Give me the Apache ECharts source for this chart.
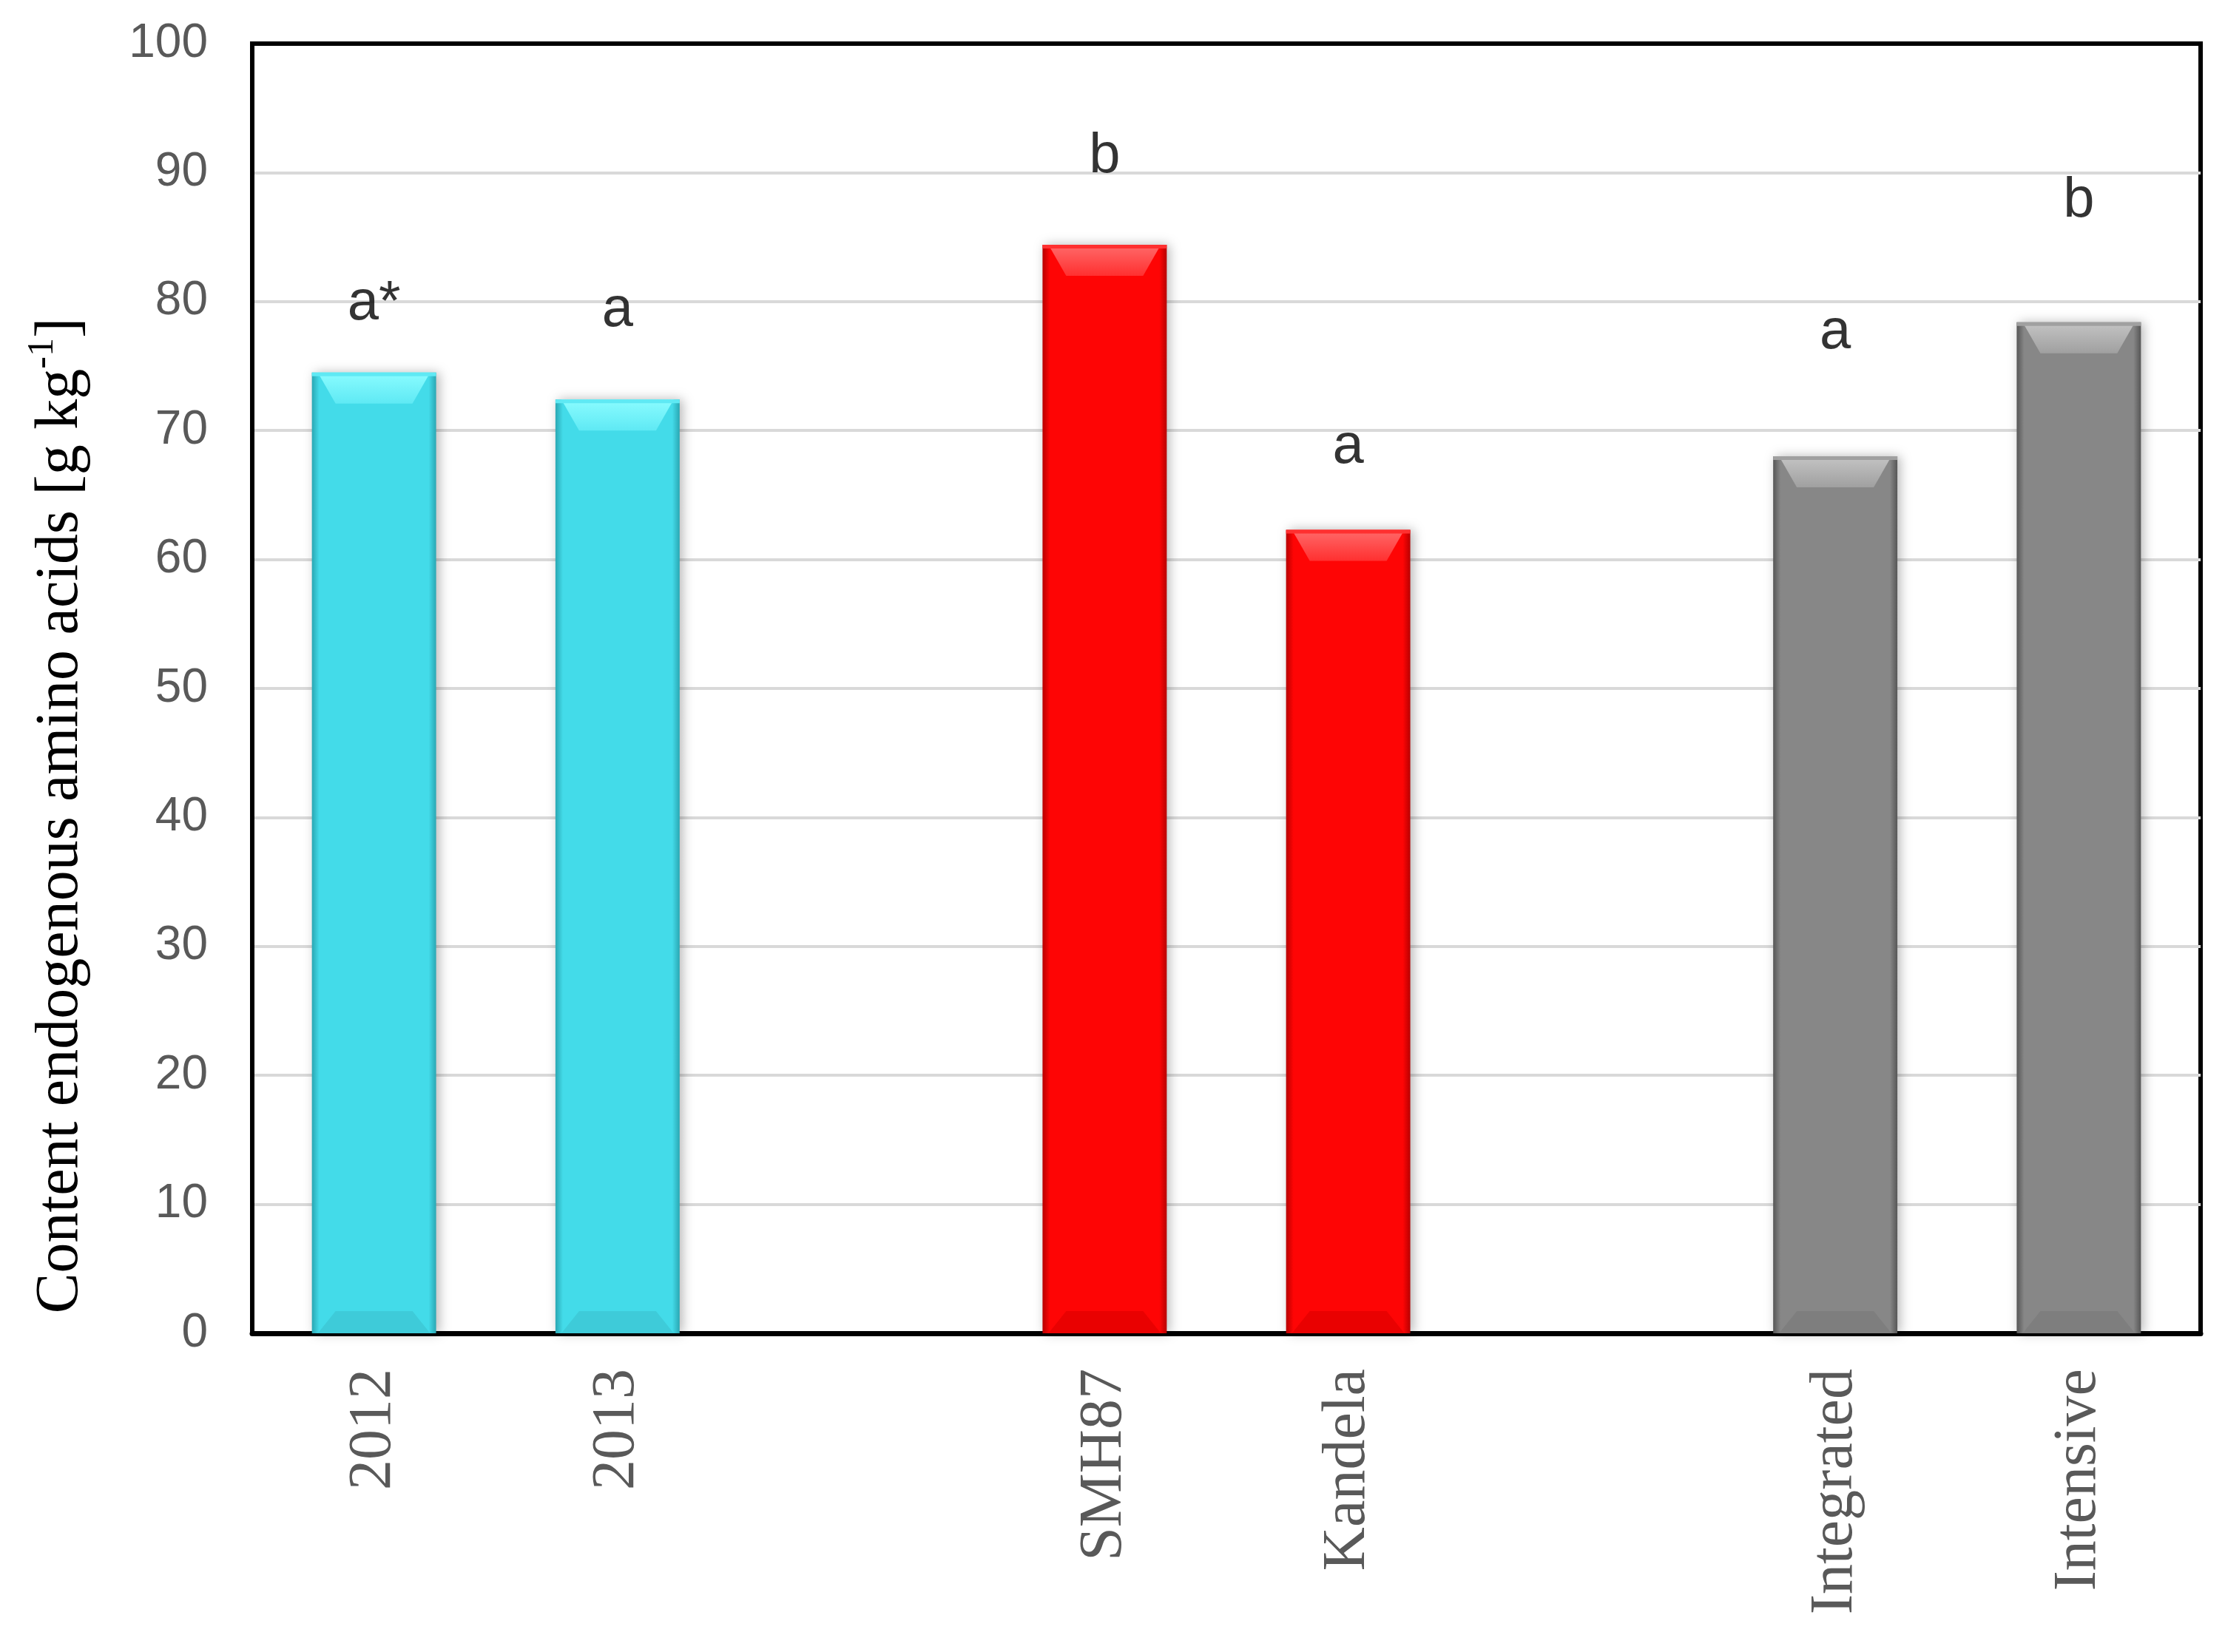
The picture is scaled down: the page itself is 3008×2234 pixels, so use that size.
<!DOCTYPE html>
<html>
<head>
<meta charset="utf-8">
<script src="https://cdn.jsdelivr.net/npm/echarts@6/dist/echarts.min.js"></script>
<style>
html,body{margin:0;padding:0;background:#fff;}
#chart{width:3008px;height:2234px;}
</style>
</head>
<body>
<div id="chart"></div>
<script>
// ---- data ----
const categories = ['2012', '2013', '', 'SMH87', 'Kandela', '', 'Integrated', 'Intensive'];
const values = [74.5, 72.4, null, 84.4, 62.3, null, 68.0, 78.4];
const letters = ['a*', 'a', '', 'b', 'a', '', 'a', 'b'];
const letterLevels = [79.8, 79.3, null, 91.2, 68.7, null, 77.6, 87.8];
const groups = [0, 0, null, 1, 1, null, 2, 2];
const yTicks = {min: 0, max: 100, interval: 10};

// ---- styles ----
const palette = [
  {main: '#43dbe9', edge: '#2aa7b3', bevelTop: '#8afcff', bevelBot: '#5fe9f4', base: '#3cc5d2'},
  {main: '#fe0505', edge: '#b80000', bevelTop: '#ff6a6a', bevelBot: '#ff3030', base: '#e00000'},
  {main: '#878787', edge: '#565656', bevelTop: '#c4c4c4', bevelBot: '#a0a0a0', base: '#7a7a7a'}
];

const barData = [];
values.forEach((v, i) => { if (v !== null) barData.push([i, v, groups[i]]); });
const letterData = [];
letterLevels.forEach((v, i) => { if (v !== null) letterData.push({value: [i, v], label: letters[i]}); });

const chart = echarts.init(document.getElementById('chart'));
chart.setOption({
  backgroundColor: '#fff',
  animation: false,
  grid: {left: 341, top: 59, width: 2634, height: 1744, show: true, borderColor: '#000', borderWidth: 6, containLabel: false},
  xAxis: {
    type: 'category',
    data: categories,
    axisLine: {show: true, lineStyle: {color: '#000', width: 7}},
    axisTick: {show: false},
    axisLabel: {rotate: 90, margin: 48, color: '#595959', fontFamily: 'Liberation Serif', fontSize: 82, interval: 0},
    splitLine: {show: false}
  },
  yAxis: {
    type: 'value',
    min: yTicks.min, max: yTicks.max, interval: yTicks.interval,
    axisLine: {show: true, lineStyle: {color: '#000', width: 6}},
    axisTick: {show: false},
    axisLabel: {margin: 60, color: '#595959', fontFamily: 'Liberation Sans', fontSize: 64},
    splitLine: {show: true, showMaxLine: false, showMinLine: false, lineStyle: {color: '#d9d9d9', width: 4}}
  },
  graphic: [{
    type: 'text',
    x: 78, y: 1103,
    rotation: Math.PI / 2,
    style: {
      text: '{n|Content endogenous amino acids [g kg}{s|-1}{n|]}',
      align: 'center', verticalAlign: 'middle',
      rich: {
        n: {fontFamily: 'Liberation Serif', fontSize: 82, fill: '#000', lineHeight: 90, verticalAlign: 'bottom'},
        s: {fontFamily: 'Liberation Serif', fontSize: 50, fill: '#000', lineHeight: 90, verticalAlign: 'top'}
      }
    }
  }],
  series: [{
    type: 'custom',
    data: barData,
    encode: {x: 0, y: 1},
    z: 3,
    renderItem: function (params, api) {
      const idx = api.value(0), val = api.value(1), g = api.value(2);
      const c = palette[g];
      const top = api.coord([idx, val]);
      const base = api.coord([idx, 0]);
      const bw = api.size([1, 0])[0] * 0.51;
      const l = top[0] - bw / 2, r = top[0] + bw / 2;
      const t = top[1], b = base[1];
      const bev = 42, ins = 32, e = 8;
      return {
        type: 'group',
        children: [
          {type: 'rect', shape: {x: l, y: t, width: bw, height: b - t},
            style: {
              fill: new echarts.graphic.LinearGradient(0, 0, 1, 0, [
                {offset: 0, color: c.edge}, {offset: 0.06, color: c.main},
                {offset: 0.94, color: c.main}, {offset: 1, color: c.edge}]),
              shadowBlur: 14, shadowColor: 'rgba(0,0,0,0.28)', shadowOffsetX: 4, shadowOffsetY: 0
            }},
          {type: 'polygon', shape: {points: [[l + e, t], [r - e, t], [r - ins, t + bev], [l + ins, t + bev]]},
            style: {fill: new echarts.graphic.LinearGradient(0, 0, 0, 1, [
              {offset: 0, color: c.bevelTop}, {offset: 1, color: c.bevelBot}])}},
          {type: 'rect', shape: {x: l, y: t, width: bw, height: 5}, style: {fill: c.bevelBot}},
          {type: 'polygon', shape: {points: [[l + e, b], [r - e, b], [r - ins, b - 30], [l + ins, b - 30]]},
            style: {fill: c.base, opacity: 0.7}}
        ]
      };
    }
  }, {
    type: 'scatter',
    data: letterData,
    symbolSize: 1,
    itemStyle: {color: 'rgba(0,0,0,0)'},
    z: 5,
    label: {
      show: true, position: 'inside',
      formatter: p => p.data.label,
      color: '#000', fontFamily: 'Liberation Sans', fontSize: 76
    }
  }]
});
</script>
</body>
</html>
